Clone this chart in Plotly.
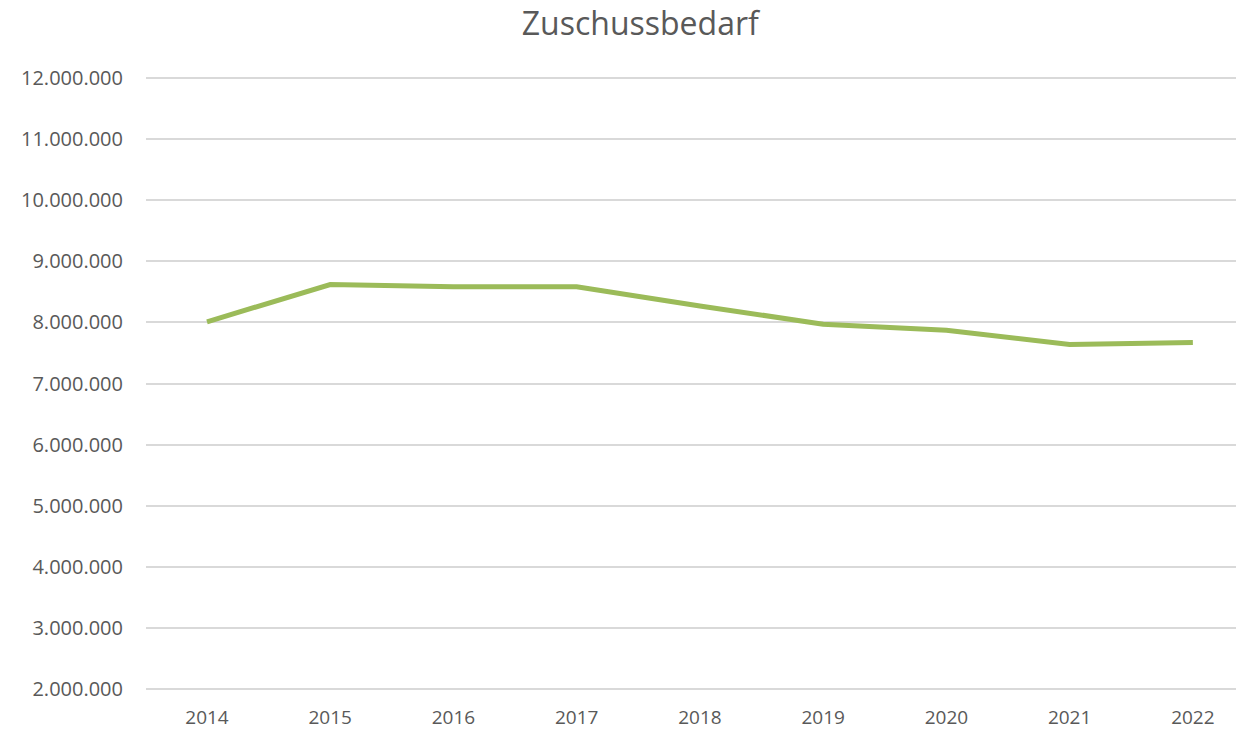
import plotly.graph_objects as go

years = ["2014", "2015", "2016", "2017", "2018", "2019", "2020", "2021", "2022"]
zuschussbedarf = [8010000, 8620000, 8585000, 8585000, 8270000, 7970000, 7870000, 7640000, 7670000]
y_ticks = [2000000, 3000000, 4000000, 5000000, 6000000, 7000000, 8000000, 9000000, 10000000, 11000000, 12000000]

text_color = "#595959"
grid_color = "#d9d9d9"

fig = go.Figure()
fig.add_trace(go.Scatter(
    x=years, y=zuschussbedarf, mode="lines",
    line=dict(color="#9bbb59", width=5),
    name="Zuschussbedarf", showlegend=False,
))

fig.update_layout(
    width=1236, height=731,
    paper_bgcolor="white", plot_bgcolor="white",
    separators=",.",
    font=dict(family="Open Sans", color=text_color, size=20),
    title=dict(text="Zuschussbedarf", x=0.518, xanchor="center", y=0.968, yanchor="middle",
               yref="container", font=dict(size=32, color=text_color)),
    margin=dict(l=146, r=0, t=75, b=39),
    xaxis=dict(
        type="category", range=[-0.495, 8.35], automargin=False,
        showgrid=False, showline=False,
        ticks="", ticklabelstandoff=12, tickfont=dict(size=19, color=text_color),
    ),
    yaxis=dict(
        range=[1950000, 12050000], tickvals=y_ticks, tickformat=",d", automargin=False,
        showgrid=True, gridcolor=grid_color, gridwidth=2, zeroline=False,
        ticks="", ticklabelstandoff=22, tickfont=dict(size=20, color=text_color),
    ),
)

fig.write_html("out.html", config={"displayModeBar": False},
               post_script="document.body.style.margin='0';document.body.style.padding='0';")
